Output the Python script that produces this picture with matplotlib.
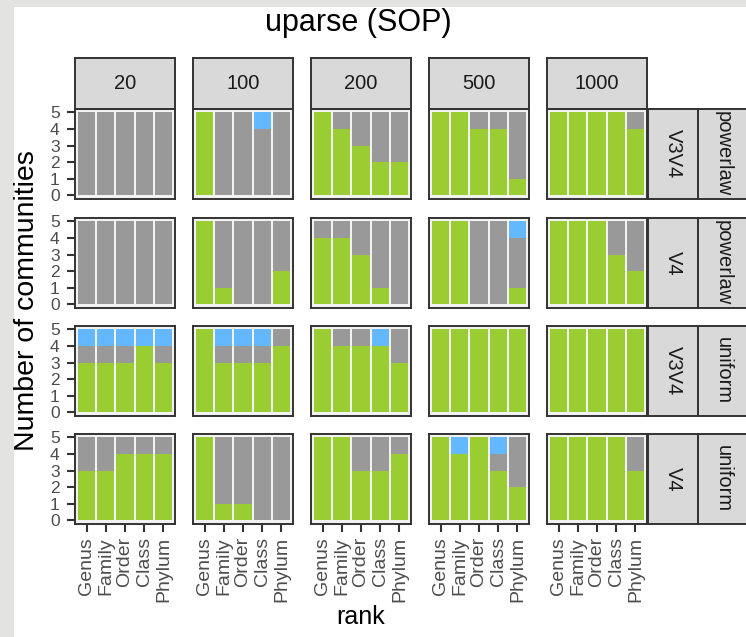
import numpy as np
import matplotlib
matplotlib.use("Agg")
import matplotlib.pyplot as plt
from matplotlib.patches import Rectangle

plt.rcParams["font.family"] = ["Liberation Sans", "DejaVu Sans"]

# ---- data -------------------------------------------------------------
ranks = ["Genus", "Family", "Order", "Class", "Phylum"]
otu_counts = ["20", "100", "200", "500", "1000"]
regions = ["V3V4", "V4", "V3V4", "V4"]
distributions = ["powerlaw", "powerlaw", "uniform", "uniform"]
n_communities = 5

# communities per rank (green = correct, blue = over-split, rest grey)
green_v3v4_powerlaw = [[0, 0, 0, 0, 0], [5, 0, 0, 0, 0], [5, 4, 3, 2, 2],
                       [5, 5, 4, 4, 1], [5, 5, 5, 5, 4]]
blue_v3v4_powerlaw = [[0, 0, 0, 0, 0], [0, 0, 0, 1, 0], [0, 0, 0, 0, 0],
                      [0, 0, 0, 0, 0], [0, 0, 0, 0, 0]]

green_v4_powerlaw = [[0, 0, 0, 0, 0], [5, 1, 0, 0, 2], [4, 4, 3, 1, 0],
                     [5, 5, 0, 0, 1], [5, 5, 5, 3, 2]]
blue_v4_powerlaw = [[0, 0, 0, 0, 0], [0, 0, 0, 0, 0], [0, 0, 0, 0, 0],
                    [0, 0, 0, 0, 1], [0, 0, 0, 0, 0]]

green_v3v4_uniform = [[3, 3, 3, 4, 3], [5, 3, 3, 3, 4], [5, 4, 4, 4, 3],
                      [5, 5, 5, 5, 5], [5, 5, 5, 5, 5]]
blue_v3v4_uniform = [[1, 1, 1, 1, 1], [0, 1, 1, 1, 0], [0, 0, 0, 1, 0],
                     [0, 0, 0, 0, 0], [0, 0, 0, 0, 0]]

green_v4_uniform = [[3, 3, 4, 4, 4], [5, 1, 1, 0, 0], [5, 5, 3, 3, 4],
                    [5, 4, 5, 3, 2], [5, 5, 5, 5, 3]]
blue_v4_uniform = [[0, 0, 0, 0, 0], [0, 0, 0, 0, 0], [0, 0, 0, 0, 0],
                   [0, 1, 0, 1, 0], [0, 0, 0, 0, 0]]

green_rows = [green_v3v4_powerlaw, green_v4_powerlaw, green_v3v4_uniform, green_v4_uniform]
blue_rows = [blue_v3v4_powerlaw, blue_v4_powerlaw, blue_v3v4_uniform, blue_v4_uniform]

# ---- style ------------------------------------------------------------
C_GREEN = "#9acd32"
C_GREY = "#999999"
C_BLUE = "#63b8ff"
C_STRIP = "#d9d9d9"
C_FRAME = "#333333"
C_PANEL = "#f2f2f2"
C_TICKTXT = "#4d4d4d"

W, H = 746, 637
fig = plt.figure(figsize=(W / 100, H / 100), dpi=100)
fig.patch.set_facecolor("#e3e3e1")
fig.patches.append(Rectangle((14 / W, 0), 1, 1 - 7 / H, transform=fig.transFigure,
                             facecolor="white", edgecolor="none", zorder=-10))


def add_px_axes(x0, y0, x1, y1):
    return fig.add_axes([x0 / W, 1 - y1 / H, (x1 - x0) / W, (y1 - y0) / H])


def style_strip(sax):
    sax.set_facecolor(C_STRIP)
    sax.set_xticks([])
    sax.set_yticks([])
    for s in sax.spines.values():
        s.set_color(C_FRAME)
        s.set_linewidth(1.4)


col_x = [75, 193, 311, 429, 547]
panel_w = 100
row_y = [109, 218, 326, 434]
panel_h = 90
strip_top = 58

x = np.arange(len(ranks))
for r in range(4):
    for c in range(5):
        x0, y0 = col_x[c], row_y[r]
        ax = add_px_axes(x0, y0, x0 + panel_w, y0 + panel_h)
        ax.set_facecolor(C_PANEL)
        g = np.array(green_rows[r][c])
        b = np.array(blue_rows[r][c])
        grey = n_communities - g - b
        ax.bar(x, g, width=0.9, color=C_GREEN, linewidth=0)
        ax.bar(x, grey, bottom=g, width=0.9, color=C_GREY, linewidth=0)
        ax.bar(x, b, bottom=g + grey, width=0.9, color=C_BLUE, linewidth=0)
        ax.set_xlim(-0.6, 4.6)
        ax.set_ylim(-0.22, 5.2)
        for s in ax.spines.values():
            s.set_color(C_FRAME)
            s.set_linewidth(1.4)
        ax.set_xticks(x)
        ax.set_yticks(range(0, 6))
        ax.tick_params(length=6, width=1.5, color=C_FRAME)
        if c == 0:
            ax.set_yticklabels([str(v) for v in range(6)], fontsize=12.5, color=C_TICKTXT)
            ax.tick_params(axis="y", pad=5)
        else:
            ax.tick_params(axis="y", left=False, labelleft=False)
        if r == 3:
            ax.set_xticklabels(ranks, rotation=90, fontsize=14, color=C_TICKTXT)
            ax.tick_params(axis="x", pad=3.5)
        else:
            ax.tick_params(axis="x", bottom=False, labelbottom=False)

        # column strips on top
        if r == 0:
            sax = add_px_axes(x0, strip_top, x0 + panel_w, y0)
            style_strip(sax)
            sax.text(0.5, 0.5, otu_counts[c], ha="center", va="center",
                     fontsize=14.5, color="#1a1a1a", transform=sax.transAxes)

    # row strips on the right
    for label, sx0 in [(regions[r], 648), (distributions[r], 698)]:
        sax = add_px_axes(sx0, row_y[r], sx0 + 50, row_y[r] + panel_h)
        style_strip(sax)
        sax.text(0.5, 0.5, label, ha="center", va="center", rotation=270,
                 fontsize=14.5, color="#1a1a1a", transform=sax.transAxes)

fig.text(358 / W, 1 - 23 / H, "uparse (SOP)", ha="center", va="center",
         fontsize=22, color="black")
fig.text(361 / W, 1 - 617 / H, "rank", ha="center", va="center",
         fontsize=18, color="black")
fig.text(27 / W, 1 - 301 / H, "Number of communities", ha="center", va="center",
         rotation=90, fontsize=20.5, color="black")

fig.savefig("out.png", dpi=100, facecolor=fig.get_facecolor())
